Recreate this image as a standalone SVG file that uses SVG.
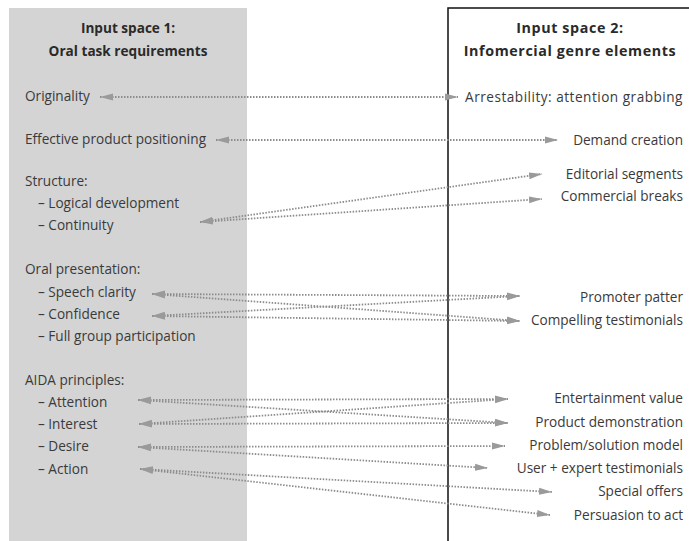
<svg xmlns="http://www.w3.org/2000/svg" width="689" height="541" viewBox="0 0 689 541">
<defs>
<style>
.t{font-family:"Open Sans","Liberation Sans",sans-serif;font-size:13.6px;fill:#3a3a3a}
.h{font-family:"Open Sans","Liberation Sans",sans-serif;font-size:13.6px;font-weight:bold;fill:#2a2a2a;text-anchor:middle}
.h2{font-size:14.3px;letter-spacing:0.6px}
.r{text-anchor:end}
.c{stroke:#8c8c8c;stroke-width:1.8;stroke-dasharray:1.5 1.5;fill:none;marker-start:url(#ah);marker-end:url(#ah)}
</style>
<marker id="ah" viewBox="0 0 13 8" refX="13" refY="4" markerWidth="13" markerHeight="8" markerUnits="userSpaceOnUse" orient="auto-start-reverse">
<path d="M0,0.5 L13,4 L0,7.5 Z" fill="#9a9a9a"/>
</marker>
</defs>
<rect width="689" height="541" fill="#ffffff"/>
<g id="input-space-1">
<rect x="9" y="8" width="238" height="540" fill="#d4d4d4"/>
<text class="h" x="128" y="33">Input space 1:</text>
<text class="h" x="128" y="56">Oral task requirements</text>
<text class="t" x="25" y="101">Originality</text>
<text class="t" x="25" y="144">Effective product positioning</text>
<text class="t" x="25" y="186">Structure:</text>
<text class="t" x="38" y="208">– Logical development</text>
<text class="t" x="38" y="230">– Continuity</text>
<text class="t" x="25" y="274">Oral presentation:</text>
<text class="t" x="38" y="297">– Speech clarity</text>
<text class="t" x="38" y="319">– Confidence</text>
<text class="t" x="38" y="341">– Full group participation</text>
<text class="t" x="25" y="385">AIDA principles:</text>
<text class="t" x="38" y="407">– Attention</text>
<text class="t" x="38" y="429">– Interest</text>
<text class="t" x="38" y="451">– Desire</text>
<text class="t" x="38" y="474">– Action</text>
</g>
<g id="input-space-2">
<rect x="448" y="8" width="260" height="545" fill="none" stroke="#111" stroke-width="1.5"/>
<text class="h h2" x="570" y="33">Input space 2:</text>
<text class="h h2" x="570" y="56">Infomercial genre elements</text>
<text class="t r" x="683" y="102" letter-spacing="0.5">Arrestability: attention grabbing</text>
<text class="t r" x="683" y="145">Demand creation</text>
<text class="t r" x="683" y="179">Editorial segments</text>
<text class="t r" x="683" y="201">Commercial breaks</text>
<text class="t r" x="683" y="302">Promoter patter</text>
<text class="t r" x="683" y="325">Compelling testimonials</text>
<text class="t r" x="683" y="403">Entertainment value</text>
<text class="t r" x="683" y="427">Product demonstration</text>
<text class="t r" x="683" y="450">Problem/solution model</text>
<text class="t r" x="683" y="473">User + expert testimonials</text>
<text class="t r" x="683" y="496">Special offers</text>
<text class="t r" x="683" y="520">Persuasion to act</text>
</g>
<g id="connectors">
<line class="c" x1="100" y1="97" x2="458" y2="97"/>
<line class="c" x1="216" y1="140" x2="558" y2="140"/>
<line class="c" x1="200" y1="222" x2="542" y2="174"/>
<line class="c" x1="200" y1="222" x2="542" y2="199"/>
<line class="c" x1="152" y1="294" x2="520" y2="296"/>
<line class="c" x1="152" y1="294" x2="520" y2="321"/>
<line class="c" x1="152" y1="316" x2="520" y2="296"/>
<line class="c" x1="152" y1="316" x2="520" y2="321"/>
<line class="c" x1="138" y1="400" x2="508" y2="399"/>
<line class="c" x1="138" y1="400" x2="508" y2="423"/>
<line class="c" x1="139" y1="424" x2="508" y2="399"/>
<line class="c" x1="139" y1="424" x2="508" y2="423"/>
<line class="c" x1="138" y1="447" x2="505" y2="446"/>
<line class="c" x1="138" y1="447" x2="488" y2="468"/>
<line class="c" x1="140" y1="469" x2="552" y2="492"/>
<line class="c" x1="140" y1="469" x2="550" y2="515"/>
</g>
</svg>
